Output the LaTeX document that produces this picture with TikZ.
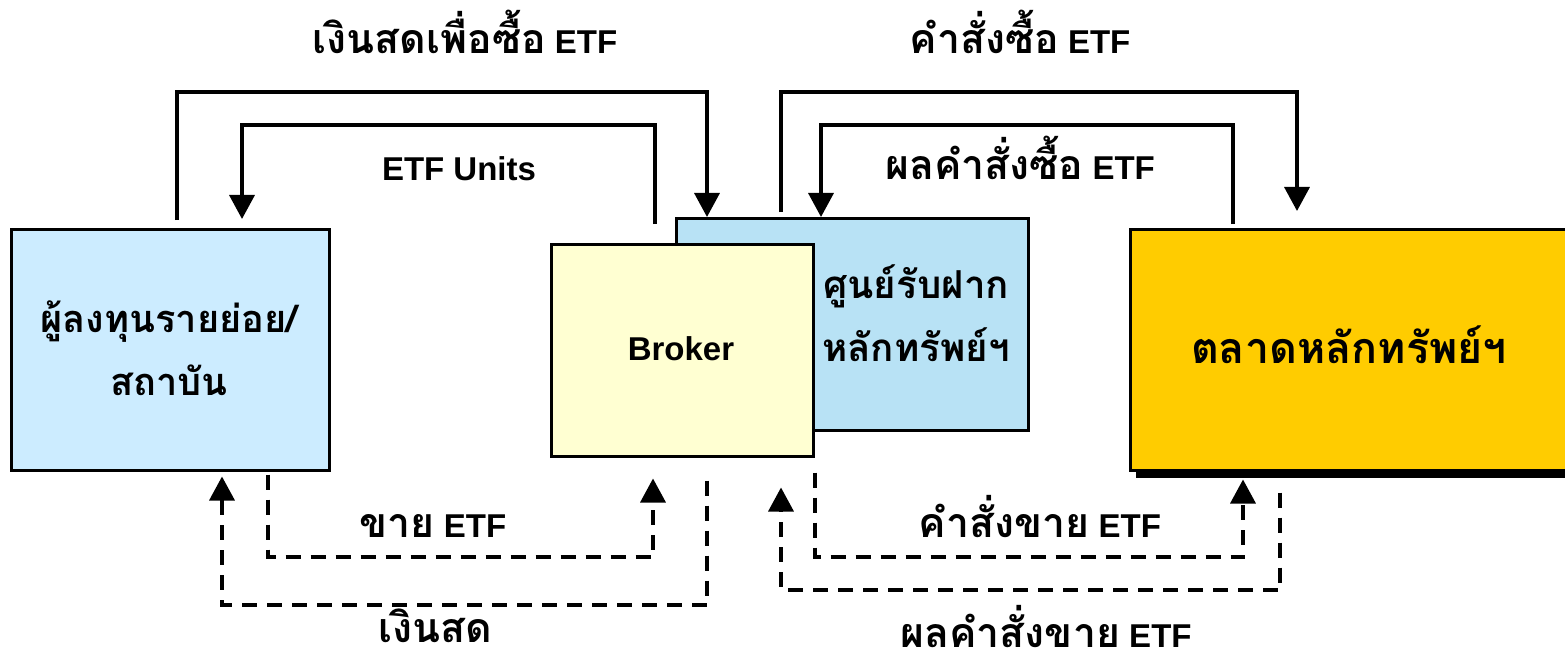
\documentclass[tikz,border=0pt]{standalone}
\usepackage{fontspec}
\setmainfont{Liberation Sans}
\newfontfamily\thai[Script=Thai]{Loma}
\usetikzlibrary{arrows.meta,calc,shadows}
\definecolor{invfill}{HTML}{CCECFF}
\definecolor{brkfill}{HTML}{FFFFD2}
\definecolor{depfill}{HTML}{B8E2F5}
\definecolor{mktfill}{HTML}{FFCC00}
\newcommand{\thtxt}[1]{{\thai\fontsize{41}{48}\selectfont #1}}
\begin{document}
\begin{tikzpicture}[x=1pt,y=-1pt,
  box/.style={draw=black,line width=2.5pt,anchor=north west,inner sep=0pt},
  lbl/.style={font=\bfseries\fontsize{33}{40}\selectfont,inner sep=0pt,anchor=base},
  sline/.style={line width=3.5pt,-{Triangle[width=25pt,length=24pt]}},
  dline/.style={line width=3.5pt,dash pattern=on 15pt off 10pt,-{Triangle[width=25pt,length=24pt]}}]
\clip (0,0) rectangle (1565,655);
\useasboundingbox (0,0) rectangle (1565,655);
% boxes
\node[box,fill=invfill,minimum width=318pt,minimum height=241pt] (inv) at (10,228) {};
\node[font=\bfseries\thai\fontsize{38}{63}\selectfont,align=center] (invt) at (169,348) {ผู้ลงทุนรายย่อย/\\สถาบัน};
\node[box,fill=depfill,minimum width=352pt,minimum height=212pt] (dep) at (675,217) {};
\node[font=\bfseries\thai\fontsize{38.5}{63}\selectfont,align=center] (dept) at (916,313) {ศูนย์รับฝาก\\หลักทรัพย์ฯ};
\node[box,fill=brkfill,minimum width=262pt,minimum height=212pt] (brk) at (550,243) {};
\node[lbl] (brkt) at (681,360) {Broker};
\node[box,fill=mktfill,minimum width=460pt,minimum height=241pt,
  drop shadow={shadow xshift=6pt,shadow yshift=-8pt,fill=black,opacity=1}] (mkt) at (1129,228) {};
\node[font=\bfseries\thai\fontsize{43}{50}\selectfont,anchor=base,inner sep=0pt] (mktt) at (1349,363) {ตลาดหลักทรัพย์ฯ};
% top connectors
\coordinate (a1) at (177,92); \coordinate (a2) at (707,92);
\draw[sline] ($(inv.north -| a1)+(0,-8)$) -- (a1) -- (a2) -- (dep.north -| a2);
\coordinate (b1) at (655,125); \coordinate (b2) at (242,125);
\draw[sline,shorten >=9pt] ($(brk.north -| b1)+(0,-19)$) -- (b1) -- (b2) -- (inv.north -| b2);
\coordinate (c1) at (781,92); \coordinate (c2) at (1297,92);
\draw[sline,shorten >=17pt] ($(dep.north -| c1)+(0,-5)$) -- (c1) -- (c2) -- (mkt.north -| c2);
\coordinate (d1) at (1233,125); \coordinate (d2) at (821,125);
\draw[sline] ($(mkt.north -| d1)+(0,-4)$) -- (d1) -- (d2) -- (dep.north -| d2);
% bottom connectors
\coordinate (e1) at (268,557); \coordinate (e2) at (653,557);
\draw[dline,shorten >=21pt] ($(inv.south -| e1)+(0,3)$) -- (e1) -- (e2) -- (brk.south -| e2);
\coordinate (f1) at (707,605); \coordinate (f2) at (222,605);
\draw[dline,shorten >=5pt] ($(brk.south -| f1)+(0,23)$) -- (f1) -- (f2) -- (inv.south -| f2);
\coordinate (g1) at (815,557); \coordinate (g2) at (1243,557);
\draw[dline,shorten >=8pt] ($(brk.south -| g1)+(0,15)$) -- (g1) -- (g2) -- (mkt.south -| g2);
\coordinate (h1) at (1280,590); \coordinate (h2) at (781,590);
\draw[dline,shorten >=56pt] ($(mkt.south -| h1)+(0,21)$) -- (h1) -- (h2) -- (dep.south -| h2);
% labels
\node[lbl] (l1) at (465,54) {\thtxt{เงินสดเพื่อซื้อ} ETF};
\node[lbl] (l2) at (459,181) {ETF Units};
\node[lbl] (l3) at (1020,54) {\thtxt{คำสั่งซื้อ} ETF};
\node[lbl] (l4) at (1020,179) {\thtxt{ผลคำสั่งซื้อ} ETF};
\node[lbl] (l5) at (433,537) {\thtxt{ขาย} ETF};
\node[lbl,text depth=0pt] (l6) at (435,642) {\thtxt{เงินสด}};
\node[lbl,text depth=0pt] (l7) at (1040,537) {\thtxt{คำสั่งขาย} ETF};
\node[lbl,text depth=0pt] (l8) at (1046,647) {\thtxt{ผลคำสั่งขาย} ETF};
\end{tikzpicture}
\end{document}
